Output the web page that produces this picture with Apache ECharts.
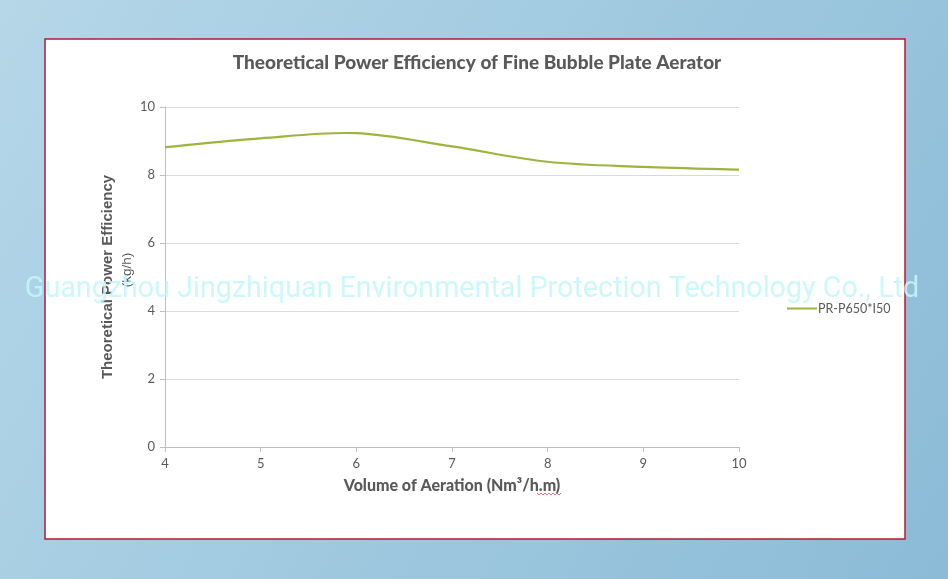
<!DOCTYPE html>
<html><head><meta charset="utf-8">
<script src="https://cdn.jsdelivr.net/npm/echarts@6/dist/echarts.min.js"></script>
<style>html,body{margin:0;padding:0;}#c{width:948px;height:579px;}</style>
</head><body><div id="c"></div>
<script>
const xValues = [4, 5, 6, 7, 8, 9, 10];
const efficiency = [8.82, 9.08, 9.23, 8.84, 8.39, 8.24, 8.16];
const seriesName = 'PR-P650*I50';
const titleText = 'Theoretical Power Efficiency of Fine Bubble Plate Aerator';
const xAxisName = 'Volume of Aeration (Nm\u00b3/h.m)';
const yAxisName = 'Theoretical Power Efficiency';
const yAxisUnit = '(kg/h)';
const watermark = 'Guangzhou Jingzhiquan Environmental Protection Technology Co., Ltd';

const chart = echarts.init(document.getElementById('c'), null, {renderer: 'canvas'});
const labelColor = '#595959';
const lineColor = '#9db53e';

// Excel-like (Catmull-Rom) spline through the data points, positioned by the axes
function renderSpline(params, api) {
  if (params.dataIndex !== 0) return null;
  const pts = xValues.map((x, i) => api.coord([x, efficiency[i]]));
  const n = pts.length;
  let d = 'M' + pts[0][0] + ' ' + pts[0][1];
  for (let i = 0; i < n - 1; i++) {
    const p0 = pts[Math.max(i - 1, 0)], p1 = pts[i], p2 = pts[i + 1], p3 = pts[Math.min(i + 2, n - 1)];
    const c1 = [p1[0] + (p2[0] - p0[0]) / 6, p1[1] + (p2[1] - p0[1]) / 6];
    const c2 = [p2[0] - (p3[0] - p1[0]) / 6, p2[1] - (p3[1] - p1[1]) / 6];
    d += ' C' + c1[0] + ' ' + c1[1] + ' ' + c2[0] + ' ' + c2[1] + ' ' + p2[0] + ' ' + p2[1];
  }
  return {type: 'path', shape: {pathData: d},
          style: {stroke: lineColor, lineWidth: 2.2, fill: null}};
}

chart.setOption({
  backgroundColor: {
    type: 'linear', x: 0, y: 0, x2: 1, y2: 1,
    colorStops: [{offset: 0, color: '#b5d7e8'}, {offset: 1, color: '#8bbbd7'}]
  },
  animation: false,
  title: {
    text: titleText, left: 472, top: 48, textAlign: 'center',
    textStyle: {fontFamily: 'Lato', fontWeight: 900, fontSize: 19, color: labelColor}
  },
  legend: {
    data: [{name: seriesName, icon: 'rect', itemStyle: {color: lineColor}}],
    left: 782, top: 297, itemWidth: 30, itemHeight: 2, itemGap: 4,
    textStyle: {fontFamily: 'Lato', fontSize: 12.5, color: labelColor, padding: [0, 0, 0, -4]}
  },
  grid: {left: 165, right: 209, top: 107, bottom: 132, containLabel: false},
  xAxis: {
    type: 'value', min: 4, max: 10, interval: 1,
    axisLine: {lineStyle: {color: '#bfbfbf'}},
    axisTick: {show: true, length: 5, lineStyle: {color: '#bfbfbf'}},
    splitLine: {show: false},
    axisLabel: {fontFamily: 'Lato', fontSize: 13, color: labelColor, margin: 10},
    name: xAxisName, nameLocation: 'middle', nameGap: 31,
    nameTextStyle: {fontFamily: 'Lato', fontWeight: 900, fontSize: 16, color: labelColor}
  },
  yAxis: {
    type: 'value', min: 0, max: 10, interval: 2,
    axisLine: {show: true, lineStyle: {color: '#bfbfbf'}},
    axisTick: {show: true, length: 5, lineStyle: {color: '#bfbfbf'}},
    splitLine: {lineStyle: {color: '#d9d9d9'}},
    axisLabel: {fontFamily: 'Lato', fontSize: 13, color: labelColor, margin: 10}
  },
  series: [{
    name: seriesName, type: 'custom', renderItem: renderSpline,
    data: xValues.map((x, i) => [x, efficiency[i]]),
    itemStyle: {color: lineColor},
    encode: {x: 0, y: 1}
  }],
  graphic: [
    {type: 'rect', z: -10, shape: {x: 45, y: 39, width: 860, height: 500},
     style: {fill: '#ffffff', stroke: '#b01c36', lineWidth: 1.5}},
    {type: 'text', x: 108, y: 277, rotation: Math.PI / 2, z: 10,
     style: {text: yAxisName, fontFamily: 'Liberation Sans', fontWeight: 'bold', fontSize: 15,
             fill: labelColor, align: 'center', verticalAlign: 'middle'}},
    {type: 'text', x: 127, y: 270, rotation: Math.PI / 2, z: 10,
     style: {text: yAxisUnit, fontFamily: 'Liberation Sans', fontSize: 13.5,
             fill: labelColor, align: 'center', verticalAlign: 'middle'}},
    {type: 'polyline', z: 10,
     shape: {points: [[537,493],[539,495],[541,493],[543,495],[545,493],[547,495],[549,493],[551,495],[553,493],[555,495],[557,493],[559,495],[561,493]]},
     style: {stroke: '#e05050', lineWidth: 0.8, fill: null}},
    {type: 'text', x: 472, y: 290, z: 100,
     style: {text: watermark, fontFamily: 'Roboto', fontSize: 28.7, fill: 'rgba(195,247,252,0.85)',
             align: 'center', verticalAlign: 'middle'}}
  ]
});
</script></body></html>
